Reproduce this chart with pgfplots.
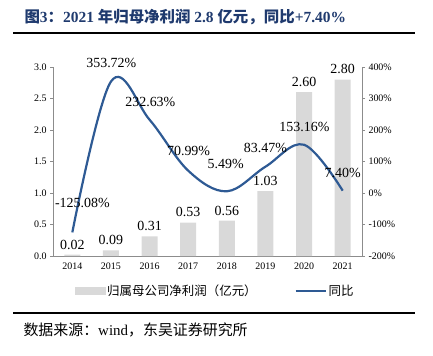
\documentclass[border=0pt]{standalone}
\usepackage{pgfplots}
\pgfplotsset{compat=1.18}
\usepackage{fontspec}
\setmainfont{Liberation Serif}
\newfontfamily\cjk{Noto Sans CJK SC}
\newfontfamily\cjkb{Noto Sans CJK SC Bold}
\definecolor{barc}{HTML}{D9D9D9}
\definecolor{linec}{HTML}{2E5A94}
\definecolor{titlec}{HTML}{1F3A6E}
\definecolor{axc}{HTML}{8C8C8C}
\begin{document}
\begin{tikzpicture}[x=1bp,y=1bp]
\useasboundingbox (0,0) rectangle (433,355);
% title
\node[anchor=west,text=titlec,font=\fontsize{15.5}{17}\selectfont\bfseries] at (21,338) {{\cjkb 图}3{\cjkb ：}2021 {\cjkb 年归母净利润} 2.8 {\cjkb 亿元，同比}+7.40\%};
\draw[line width=1.6bp] (13,322) -- (415,322);
\draw[line width=1.6bp] (13,42) -- (415,42);
\node[anchor=west,font=\fontsize{15}{17}\selectfont] at (20,25) {{\cjk 数据来源：}wind{\cjk ，东吴证券研究所}};
\begin{axis}[
  at={(53bp,99bp)}, anchor=south west,
  scale only axis, width=309bp, height=189bp,
  xmin=-0.5, xmax=7.5, ymin=0, ymax=3,
  axis y line*=left, axis x line*=bottom,
  axis line style={axc, line width=0.6bp},
  xtick={0,...,7}, xticklabels={2014,2015,2016,2017,2018,2019,2020,2021},
  xtick style={draw=none},
  ytick={0,0.5,...,3},
  ytick style={axc},
  tick align=outside, major tick length=3bp,
  yticklabel style={/pgf/number format/.cd, fixed, fixed zerofill, precision=1},
  /pgf/number format/assume math mode=true,
  tick label style={font=\fontsize{10}{12}\selectfont},
  x axis line style={-}, y axis line style={-},
  clip=false,
]
\addplot[ybar, bar width=16bp, fill=barc, draw=none,
  nodes near coords,
  every node near coord/.append style={font=\fontsize{14}{16}\selectfont, text=black, anchor=south, yshift=2bp, /pgf/number format/.cd, fixed, fixed zerofill, precision=2, assume math mode=true}]
coordinates {(0,0.02) (1,0.09) (2,0.31) (3,0.53) (4,0.56) (5,1.03) (6,2.60) (7,2.80)};
\end{axis}
\begin{axis}[
  at={(53bp,99bp)}, anchor=south west,
  scale only axis, width=309bp, height=189bp,
  xmin=-0.5, xmax=7.5, ymin=-200, ymax=400,
  axis y line*=right, axis x line=none,
  axis line style={axc, line width=0.6bp},
  ytick={-200,-100,...,400},
  ytick style={axc},
  tick align=outside, major tick length=3bp,
  yticklabel={\pgfmathprintnumber{\tick}\%},
  /pgf/number format/assume math mode=true,
  tick label style={font=\fontsize{10}{12}\selectfont},
  y axis line style={-},
  clip=false,
  legend style={at={(0.07,-0.185)}, anchor=west, draw=none, fill=none,
    legend columns=2, font=\fontsize{12.5}{14}\selectfont\cjk,
    /tikz/every even column/.append style={column sep=36bp},
    inner sep=0pt, cells={anchor=west}},
]
\addlegendimage{legend image code/.code={\fill[barc] (0bp,-3.5bp) rectangle (30bp,3.5bp);}}
\addlegendentry{归属母公司净利润（亿元）}
\addlegendimage{legend image code/.code={\draw[linec, line width=2bp] (0bp,0bp) -- (30bp,0bp);}}
\addlegendentry{同比}
\addplot[linec, line width=2.2bp, smooth, tension=0.6]
coordinates {(0,-125.08) (1,353.72) (2,232.63) (3,70.99) (4,5.49) (5,83.47) (6,153.16) (7,7.40)};
\begin{scope}[font=\fontsize{14}{16}\selectfont]
\node at (axis cs:0.26,-32) {-125.08\%};
\node at (axis cs:1.01,413) {353.72\%};
\node at (axis cs:2.02,289) {232.63\%};
\node at (axis cs:3.01,133) {70.99\%};
\node at (axis cs:3.97,92) {5.49\%};
\node at (axis cs:5.0,143) {83.47\%};
\node at (axis cs:6.01,210) {153.16\%};
\node at (axis cs:7.0,64) {7.40\%};
\end{scope}
\end{axis}
\end{tikzpicture}
\end{document}
